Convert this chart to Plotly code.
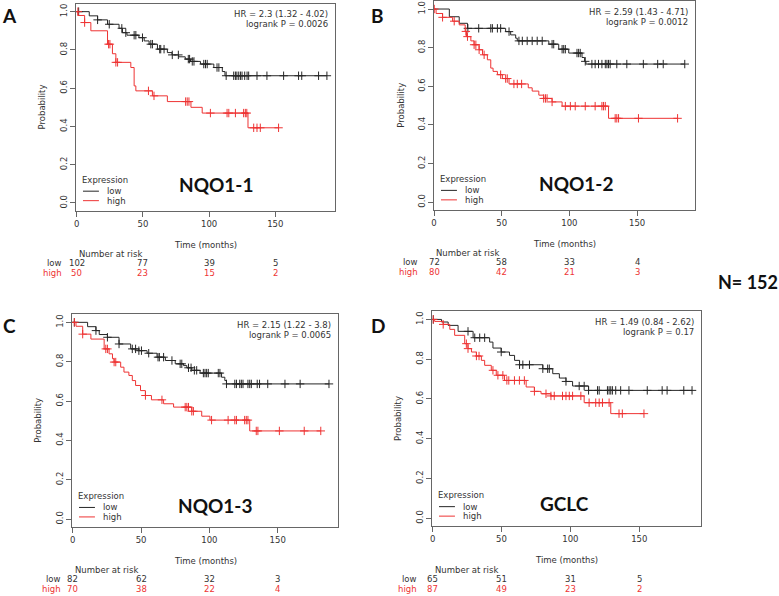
import numpy as np
import plotly.graph_objects as go

W, H = 779, 596

# ---------------- data ----------------
xticks = [0, 50, 100, 150]
yticks = [0.0, 0.2, 0.4, 0.6, 0.8, 1.0]

# Panel A : NQO1-1
a_low_t = [0, 9.5, 15.8, 23.3, 32, 34.6, 38, 47, 51, 54.7, 61, 68.5, 72, 77, 82, 86, 93.5, 103.6, 110, 112]
a_low_s = [1, 0.978, 0.957, 0.934, 0.913, 0.89, 0.877, 0.864, 0.847, 0.83, 0.804, 0.786, 0.774, 0.764, 0.752, 0.74, 0.726, 0.708, 0.687, 0.665]
a_low_c = [1.5, 15.8, 24.6, 34.1, 37.1, 43.4, 44.7, 49.7, 56, 57.2, 62.7, 63.5, 66, 72.2, 76.8, 84.3, 85.3, 87.3, 88.6, 96, 97.3, 98.6,
           106, 107.4, 112.9, 118.6, 119.9, 121, 122.4, 123.7, 124.9, 126.9, 128.7, 129.9, 136.2, 143.7, 156.3, 167.6, 170, 182.7, 189]
a_high_t = [0, 1.0, 6, 10.7, 23.3, 27, 29.6, 40.9, 43.4, 44.7, 57.2, 68.5, 86.3, 94.8, 129.4]
a_high_s = [1, 0.98, 0.943, 0.9, 0.83, 0.78, 0.735, 0.708, 0.612, 0.586, 0.56, 0.53, 0.5, 0.47, 0.393]
a_high_c = [0.9, 6, 24.1, 25.1, 29.6, 30.9, 54.2, 58.4, 82.3, 83.5, 84.8, 101, 113.6, 114.9, 119.9, 126.1, 127.4, 128.5,
            133.7, 136.2, 138.7, 152.5]
a_risk_low = [102, 77, 39, 5]
a_risk_high = [50, 23, 15, 2]
a_hr = "HR = 2.3 (1.32 - 4.02)"
a_p = "logrank P = 0.0026"

# Panel B : NQO1-2
b_low_t = [0, 11.3, 18.6, 24.7, 52.9, 56.6, 60.3, 61.5, 84.8, 92.1, 99.5, 109.3, 111.2, 112.2]
b_low_s = [1, 0.96, 0.926, 0.9, 0.883, 0.866, 0.849, 0.835, 0.818, 0.792, 0.772, 0.749, 0.729, 0.715]
b_low_c = [25, 33, 41.9, 43.1, 46.8, 49.2, 55.4, 62.7, 65.2, 68.8, 72.5, 76.2, 79.9, 87.2, 88.4, 94.6, 95.8, 97, 105.6, 106.8,
           108, 111.7, 116.6, 119, 121.5, 124, 126.5, 127.7, 128.9, 130.1, 135, 142.4, 154.6, 165.2, 169.3, 185.2]
b_high_t = [0, 1.5, 6.3, 13.7, 18.6, 23, 24, 27.2, 29.6, 33.3, 35.8, 39.4, 41.9, 43.6, 46.8, 50.5, 55.4, 69.6, 72.5, 77.4, 81,
            87.2, 94.6, 128.9]
b_high_s = [1, 0.977, 0.957, 0.937, 0.918, 0.884, 0.857, 0.835, 0.815, 0.789, 0.763, 0.737, 0.694, 0.677, 0.66, 0.64, 0.612,
            0.592, 0.575, 0.554, 0.537, 0.519, 0.497, 0.434]
b_high_c = [0.2, 6.3, 14.9, 23.5, 24.7, 29.6, 30.9, 33.3, 37, 49.2, 52.9, 54.1, 59, 61.5, 64.7, 81, 82.3, 83.5, 87.2, 97, 100.7,
            104.3, 111.7, 119, 124, 125.2, 126.5, 133.8, 135, 136.3, 151, 179.9]
b_risk_low = [72, 58, 33, 4]
b_risk_high = [80, 42, 21, 3]
b_hr = "HR = 2.59 (1.43 - 4.71)"
b_p = "logrank P = 0.0012"

# Panel C : NQO1-3
c_low_t = [0, 10.9, 17, 19.4, 25.4, 33.9, 42.4, 48.4, 54.4, 61.7, 67.8, 75, 81.1, 83.5, 87.1, 93.2, 108.9, 111.3, 112.5]
c_low_s = [1, 0.978, 0.958, 0.938, 0.924, 0.89, 0.865, 0.856, 0.843, 0.823, 0.806, 0.789, 0.78, 0.769, 0.756, 0.742, 0.721,
           0.704, 0.687]
c_low_c = [1.2, 17, 25.4, 33.9, 43.6, 46, 48.4, 50.3, 55.6, 62.4, 63.4, 66.5, 72.6, 78.6, 79.8, 84.7, 86.6, 89, 90.7, 95.6, 96.8,
           98, 99.2, 106.5, 107.7, 112.5, 118.6, 119.8, 122.2, 123.4, 124.6, 128.2, 129.5, 130.7, 135, 136.7, 142.7, 155.3,
           166.4, 187.5]
c_high_t = [0, 2.4, 7.3, 13.3, 23, 26.6, 29.1, 30.3, 35.1, 37.5, 41.1, 43.6, 46, 49.6, 53.2, 57.6, 66.5, 73.8, 87.1, 94.4,
            100.4, 129.5]
c_high_s = [1, 0.98, 0.94, 0.915, 0.865, 0.84, 0.815, 0.798, 0.772, 0.747, 0.73, 0.704, 0.679, 0.653, 0.628, 0.606, 0.586,
            0.569, 0.548, 0.523, 0.503, 0.448]
c_high_c = [1.2, 7.3, 24.2, 25.4, 30.3, 31.5, 53.2, 65.3, 82.3, 83.5, 84.7, 87.1, 88.3, 101.6, 113.7, 118.6, 119.8, 125.8, 127,
            128.2, 134.3, 135.5, 151.2, 169.4, 181.5]
c_risk_low = [82, 62, 32, 3]
c_risk_high = [70, 38, 22, 4]
c_hr = "HR = 2.15 (1.22 - 3.8)"
c_p = "logrank P = 0.0065"

# Panel D : GCLC
d_low_t = [0, 6.5, 11.3, 18.5, 29.4, 41.4, 43.8, 49.8, 55.8, 59.5, 63.1, 80, 87.2, 92, 96.8, 101.6, 113.2]
d_low_s = [1, 0.987, 0.97, 0.94, 0.908, 0.886, 0.856, 0.836, 0.819, 0.794, 0.772, 0.752, 0.727, 0.705, 0.688, 0.665, 0.643]
d_low_c = [0.5, 25.7, 30.6, 34.2, 37.8, 49.8, 63.1, 65.5, 70.3, 80, 83.5, 84.7, 96.8, 106.4, 110, 113.2, 119.7, 120.9, 126.9,
           128.1, 129.3, 130.5, 132.9, 136.5, 142.5, 155.8, 166.6, 170.2, 182.3, 188.3]
d_high_t = [0, 1.5, 7.7, 12.5, 16, 23.3, 25.7, 28.2, 31.8, 35.4, 37.8, 42.6, 46.2, 52.2, 67.9, 73.9, 78.7, 85.9, 110, 129.3]
d_high_s = [1, 0.99, 0.975, 0.95, 0.92, 0.878, 0.853, 0.836, 0.816, 0.794, 0.769, 0.744, 0.719, 0.693, 0.66, 0.638, 0.626,
            0.615, 0.581, 0.526]
d_high_c = [0.5, 7.7, 24.5, 25.7, 31.8, 33.7, 43.8, 47.4, 51, 53.9, 55.3, 59.4, 63, 66.6, 73.9, 82.3, 85.9, 88.3, 94.3, 96.8,
            99.2, 101.6, 107.6, 113.6, 118.4, 120.9, 123.3, 128.1, 135.3, 137.7, 153.4]
d_risk_low = [65, 51, 31, 5]
d_risk_high = [87, 49, 23, 2]
d_hr = "HR = 1.49 (0.84 - 2.62)"
d_p = "logrank P = 0.17"

panel_letters = ["A", "B", "C", "D"]
gene_names = ["NQO1-1", "NQO1-2", "NQO1-3", "GCLC"]
n_total = "N= 152"

# ---------------- layout geometry (pixels) ----------------
panels = [
    dict(box=(73.3, 3.0, 333.0, 210.0), xr=[-0.5, 194.9], low=(a_low_t, a_low_s, a_low_c),
         high=(a_high_t, a_high_s, a_high_c), risk=(a_risk_low, a_risk_high), hr=a_hr, p=a_p,
         letter=(7, 15), gene=(213.7, 184), lab_right=61),
    dict(box=(432.7, 0.3, 695.0, 209.2), xr=[0, 193], low=(b_low_t, b_low_s, b_low_c),
         high=(b_high_t, b_high_s, b_high_c), risk=(b_risk_low, b_risk_high), hr=b_hr, p=b_p,
         letter=(376, 15), gene=(575.7, 182.5), lab_right=419),
    dict(box=(69.3, 314.0, 336.7, 526.8), xr=[-0.5, 194.4], low=(c_low_t, c_low_s, c_low_c),
         high=(c_high_t, c_high_s, c_high_c), risk=(c_risk_low, c_risk_high), hr=c_hr, p=c_p,
         letter=(7, 325), gene=(213.3, 505.3), lab_right=60),
    dict(box=(430.7, 311.0, 700.7, 526.0), xr=[-0.4, 194.8], low=(d_low_t, d_low_s, d_low_c),
         high=(d_high_t, d_high_s, d_high_c), risk=(d_risk_low, d_risk_high), hr=d_hr, p=d_p,
         letter=(376.5, 325), gene=(563.8, 503.7), lab_right=418),
]

BLACK = "#262626"
RED = "#ee3333"
AXC = "#666666"
RFONT = "DejaVu Sans"
FS = 8.5


def px(x):
    return x / W


def py(y):
    return 1 - y / H


def step_at(t, s, c):
    t = np.asarray(t, float)
    s = np.asarray(s, float)
    idx = np.searchsorted(t, np.asarray(c, float), side="right") - 1
    return s[np.clip(idx, 0, len(s) - 1)]


fig = go.Figure()
annotations = []
shapes = []
layout = {}

for i, p in enumerate(panels):
    k = "" if i == 0 else str(i + 1)
    xa, ya = "x" + k, "y" + k
    x0, y0, x1, y1 = p["box"]
    for (t, s, c), col in ((p["low"], BLACK), (p["high"], RED)):
        end = max(max(c), max(t))
        fig.add_trace(go.Scatter(x=list(t) + [end], y=list(s) + [s[-1]], mode="lines",
                                 line=dict(color=col, width=1, shape="hv"),
                                 xaxis=xa, yaxis=ya, showlegend=False, hoverinfo="skip"))
        fig.add_trace(go.Scatter(x=c, y=step_at(t, s, c), mode="markers",
                                 marker=dict(symbol="cross-thin", size=6, line=dict(color=col, width=1)),
                                 xaxis=xa, yaxis=ya, showlegend=False, hoverinfo="skip"))
    common_ax = dict(showline=True, mirror=True, linecolor=AXC, linewidth=1, ticks="outside", ticklen=5,
                     tickcolor=AXC, tickwidth=1, showgrid=False, zeroline=False,
                     tickfont=dict(family=RFONT, size=FS, color="#333"))
    layout["xaxis" + k] = dict(common_ax, domain=[px(x0), px(x1)], range=p["xr"], tickvals=xticks,
                               anchor=ya)
    layout["yaxis" + k] = dict(common_ax, domain=[py(y1), py(y0)], range=[-0.04, 1.04], tickvals=yticks,
                               tickformat=".1f", tickangle=-90, anchor=xa)

    def txt(x, y, text, size=FS, color="#333", xanchor="center", family=RFONT, xref="paper", angle=0, bold=False):
        annotations.append(dict(x=x, y=py(y), xref=xref, yref="paper", text=text, showarrow=False,
                                xanchor=xanchor, yanchor="middle", textangle=angle,
                                font=dict(family=family, size=size, color=color,
                                          weight="bold" if bold else "normal")))

    # axis titles
    txt(px(x0 - 34), (y0 + y1) / 2, "Probability", angle=-90)
    txt(px((x0 + x1) / 2), y1 + 34, "Time (months)")
    # HR / logrank
    txt(px(x1 - 5), y0 + 10.5, p["hr"], xanchor="right")
    txt(px(x1 - 5), y0 + 20.5, p["p"], xanchor="right")
    # legend
    txt(px(x0 + 4), y1 - 31, "Expression", xanchor="left")
    for yy, name, col in ((y1 - 19.5, "low", BLACK), (y1 - 10, "high", RED)):
        shapes.append(dict(type="line", xref="paper", yref="paper", x0=px(x0 + 7), x1=px(x0 + 23),
                           y0=py(yy), y1=py(yy), line=dict(color=col, width=1)))
        txt(px(x0 + 29), yy, name, xanchor="left")
    # number at risk
    txt(0, y1 + 43.5, "Number at risk", xref=xa, xanchor="left")
    txt(px(p["lab_right"]), y1 + 52.5, "low", xanchor="right")
    txt(px(p["lab_right"]), y1 + 62.5, "high", xanchor="right", color=RED)
    for xv, nl, nh in zip(xticks, p["risk"][0], p["risk"][1]):
        txt(xv, y1 + 52.5, str(nl), xref=xa)
        txt(xv, y1 + 62.5, str(nh), xref=xa, color=RED)
    # panel letter and gene label
    txt(px(p["letter"][0]), p["letter"][1], panel_letters[i], size=19, color="#111", family="Lato", bold=True)
    txt(px(p["gene"][0]), p["gene"][1], gene_names[i], size=19, color="#111", family="Lato", bold=True)

annotations.append(dict(x=px(748), y=py(281), xref="paper", yref="paper", text=n_total, showarrow=False,
                        xanchor="center", yanchor="middle",
                        font=dict(family="Lato", size=18, color="#111", weight="bold")))

fig.update_layout(width=W, height=H, margin=dict(l=0, r=0, t=0, b=0), paper_bgcolor="white",
                  plot_bgcolor="white", showlegend=False, annotations=annotations, shapes=shapes, **layout)
fig.write_html("out.html", config={"displayModeBar": False},
               post_script="document.body.style.margin='0px';document.body.style.overflow='hidden';")
